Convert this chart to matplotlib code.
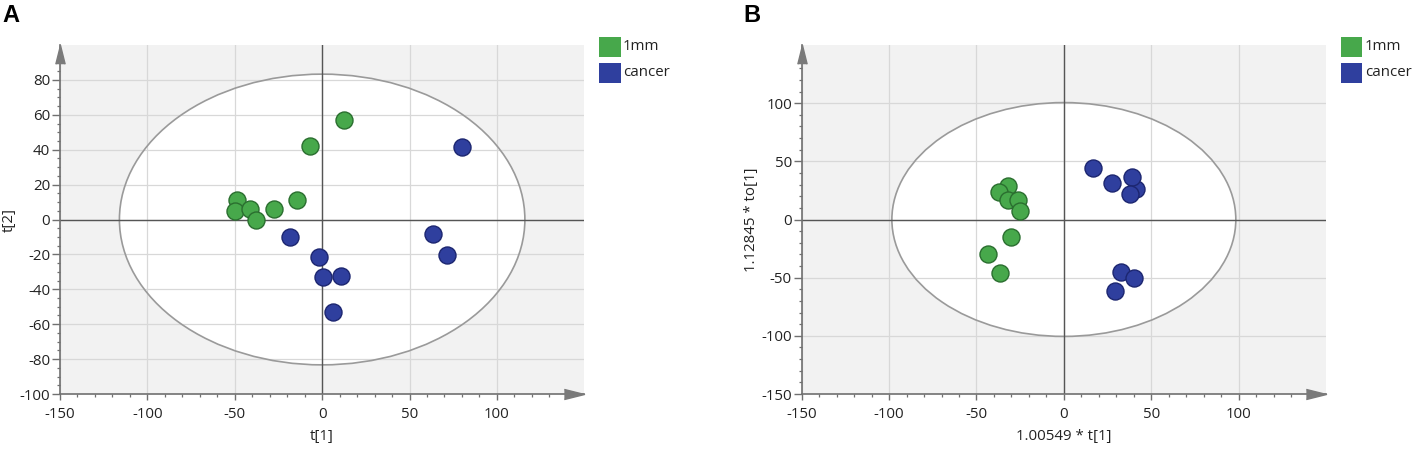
import matplotlib.pyplot as plt
import numpy as np
from matplotlib.patches import Ellipse, Rectangle

plt.rcParams['font.family'] = ['Open Sans', 'DejaVu Sans']
plt.rcParams['axes.unicode_minus'] = False

groups = ['1mm', 'cancer']
group_colors = ['#47a84b', '#2f3f9e']
edge_colors = ['#2a6e2f', '#1c2670']

# panel A: t[1] vs t[2]
a_1mm_x = [12.3, -7.0, -48.5, -49.6, -41.4, -37.6, -27.7, -14.4]
a_1mm_y = [57.3, 42.2, 11.0, 5.0, 5.8, -0.3, 5.8, 11.0]
a_cancer_x = [80.3, -18.6, -2.0, 0.5, 10.6, 6.4, 63.7, 71.3]
a_cancer_y = [41.4, -10.0, -21.6, -32.7, -32.3, -53.2, -8.5, -20.1]

# panel B: 1.00549 * t[1] vs 1.12845 * to[1]
b_1mm_x = [-32.1, -36.9, -32.1, -26.0, -25.0, -30.0, -43.3, -36.7]
b_1mm_y = [28.4, 23.5, 16.9, 16.9, 7.5, -15.1, -29.8, -46.1]
b_cancer_x = [16.5, 27.3, 41.2, 39.0, 38.0, 32.9, 39.9, 29.0]
b_cancer_y = [43.9, 31.3, 26.1, 36.4, 22.1, -45.2, -49.9, -61.6]

x_ticks = [-150, -100, -50, 0, 50, 100]
a_y_ticks = [-100, -80, -60, -40, -20, 0, 20, 40, 60, 80]
b_y_ticks = [-150, -100, -50, 0, 50, 100]

panels = [
    {
        'letter': 'A',
        'series': [(a_1mm_x, a_1mm_y), (a_cancer_x, a_cancer_y)],
        'ellipse': (116, 83.3),
        'ylim': (-100, 100),
        'yticks': a_y_ticks,
        'yminor': 5,
        'xlabel': 't[1]',
        'ylabel': 't[2]',
        'left': 60,
    },
    {
        'letter': 'B',
        'series': [(b_1mm_x, b_1mm_y), (b_cancer_x, b_cancer_y)],
        'ellipse': (98.4, 100.5),
        'ylim': (-150, 150),
        'yticks': b_y_ticks,
        'yminor': 10,
        'xlabel': '1.00549 * t[1]',
        'ylabel': '1.12845 * to[1]',
        'left': 801.7,
    },
]

W, H = 1418, 455
fig = plt.figure(figsize=(W / 100, H / 100), dpi=100)

axis_grey = '#707070'
text_col = '#222222'
fs = 10.8
arrow_x = [(-1, -0.25), (0, 0), (-1, 0.25)]
arrow_y = [(-0.25, -1), (0, 0), (0.25, -1)]

for p in panels:
    ax = fig.add_axes([p['left'] / W, 1 - 394 / H, 524.3 / W, 349 / H])
    ax.set_facecolor('#f2f2f2')

    rx, ry = p['ellipse']
    ax.add_patch(Ellipse((0, 0), 2 * rx, 2 * ry, facecolor='white',
                         edgecolor='none', zorder=0.2))
    ax.add_patch(Ellipse((0, 0), 2 * rx, 2 * ry, facecolor='none',
                         edgecolor='#9a9a9a', lw=1.2, zorder=1.2))

    ax.set_xticks(x_ticks)
    ax.set_xticks(np.arange(-150, 141, 10), minor=True)
    ax.set_yticks(p['yticks'])
    ax.set_yticks(np.arange(p['ylim'][0], p['ylim'][1] - 5, p['yminor']),
                  minor=True)
    ax.set_xlim(-150, 150)
    ax.set_ylim(*p['ylim'])
    ax.set_axisbelow(True)
    ax.grid(True, which='major', color='#d8d8d8', lw=0.9)

    ax.axhline(0, color='#555555', lw=1.0, zorder=1.5)
    ax.axvline(0, color='#555555', lw=1.0, zorder=1.5)

    for (xs, ys), fc, ec in zip(p['series'], group_colors, edge_colors):
        ax.scatter(xs, ys, s=150, c=fc, edgecolors=ec, linewidths=1.0,
                   zorder=3)

    for side in ['top', 'right']:
        ax.spines[side].set_visible(False)
    for side in ['left', 'bottom']:
        ax.spines[side].set_color(axis_grey)
        ax.spines[side].set_linewidth(1.2)

    ax.tick_params(which='major', axis='x', length=4.5, width=1,
                   color=axis_grey, labelsize=fs, pad=5, labelcolor=text_col)
    ax.tick_params(which='major', axis='y', length=6, width=1,
                   color=axis_grey, labelsize=fs, pad=1, labelcolor=text_col)
    ax.tick_params(which='minor', length=2.5, width=0.9, color=axis_grey)

    ax.plot([1], [0], marker=arrow_x, markersize=29, color='#7a7a7a',
            transform=ax.transAxes, clip_on=False, zorder=4)
    ax.plot([0], [1], marker=arrow_y, markersize=27, color='#7a7a7a',
            transform=ax.transAxes, clip_on=False, zorder=4)

    ax.set_xlabel(p['xlabel'], fontsize=fs, color=text_col)
    ax.set_ylabel(p['ylabel'], fontsize=fs, color=text_col)
    ax.xaxis.set_label_coords(0.5, -0.1)
    ax.yaxis.set_label_coords(-0.082, 0.5)

    # panel letter
    fig.text((p['left'] - 58) / W, 1 - 16 / H, p['letter'],
             fontsize=17, fontweight='bold', family='Liberation Sans',
             va='center', ha='left')

    # legend
    lx = p['left'] + 539
    for i, (name, fc) in enumerate(zip(groups, group_colors)):
        top = 36.7 + i * 26
        fig.add_artist(Rectangle((lx / W, 1 - (top + 20.6) / H), 21.5 / W,
                                 20.6 / H, facecolor=fc, edgecolor='none',
                                 transform=fig.transFigure))
        fig.text((lx + 24) / W, 1 - (top + 10.3) / H, name, fontsize=fs,
                 va='center', ha='left', color=text_col)

fig.savefig('out.png', dpi=100)
